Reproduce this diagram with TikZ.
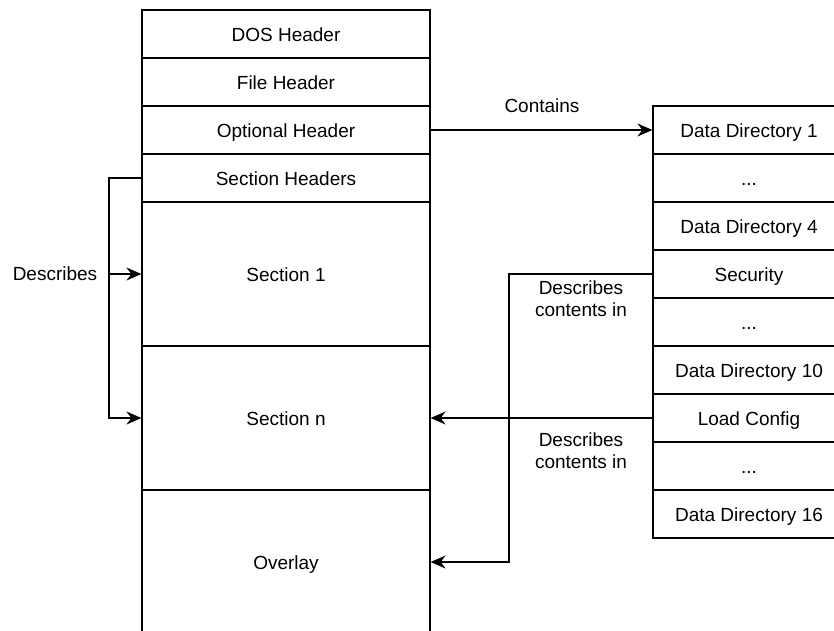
\documentclass[tikz,border=0pt]{standalone}
\usepackage{fontspec}
\setmainfont{Liberation Sans}
\usetikzlibrary{arrows.meta}
\begin{document}
\begin{tikzpicture}[x=1pt,y=-1pt,
  every node/.style={font=\fontsize{19}{22}\selectfont, text=black},
  cell/.style={draw, line width=1.2pt, minimum width=288pt, minimum height=48pt, inner sep=0pt, text height=18pt, text depth=4pt, anchor=center},
  tall/.style={cell, minimum height=144pt},
  dcell/.style={cell, minimum width=192pt},
  lbl/.style={align=center, inner sep=0pt},
  conn/.style={line width=1.2pt, -{Stealth[length=15pt,width=13pt,inset=5pt]}}
]
\clip (0,0) rectangle (834,630);
\fill[white] (0,0) rectangle (834,630);
% left column
\node[cell] (dos) at (286,34) {DOS Header};
\node[cell] (fh) at (286,82) {File Header};
\node[cell] (oh) at (286,130) {Optional Header};
\node[cell] (sh) at (286,178) {Section Headers};
\node[tall] (s1) at (286,274) {Section 1};
\node[tall] (sn) at (286,418) {Section n};
\node[tall] (ov) at (286,562) {Overlay};
% right column
\node[dcell] (d1) at (749,130) {Data Directory 1};
\node[dcell] (e1) at (749,178) {...};
\node[dcell] (d4) at (749,226) {Data Directory 4};
\node[dcell] (sec) at (749,274) {Security};
\node[dcell] (e2) at (749,322) {...};
\node[dcell] (d10) at (749,370) {Data Directory 10};
\node[dcell] (lc) at (749,418) {Load Config};
\node[dcell] (e3) at (749,466) {...};
\node[dcell] (d16) at (749,514) {Data Directory 16};
% labels
\node[lbl] (contains) at (542,106) {Contains};
\node[lbl] (descr) at (55,274) {Describes};
\node[lbl] (dc1) at (581,299) {Describes\\contents in};
\node[lbl] (dc2) at (581,451) {Describes\\contents in};
% coordinates
\coordinate (la) at (109,178);
\coordinate (lb) at (109,274);
\coordinate (lc1) at (109,418);
\coordinate (ra) at (509,274);
\coordinate (rb) at (509,562);
% connectors
\draw[conn] (oh.east) -- (d1.west);
\draw[conn] (sh.west) -- (la) -- (lc1) -- (sn.west);
\draw[conn] (lb) -- (s1.west);
\draw[conn] (sec.west) -- (ra) -- (rb) -- (ov.east);
\draw[conn] (lc.west) -- (sn.east);
\end{tikzpicture}
\end{document}
